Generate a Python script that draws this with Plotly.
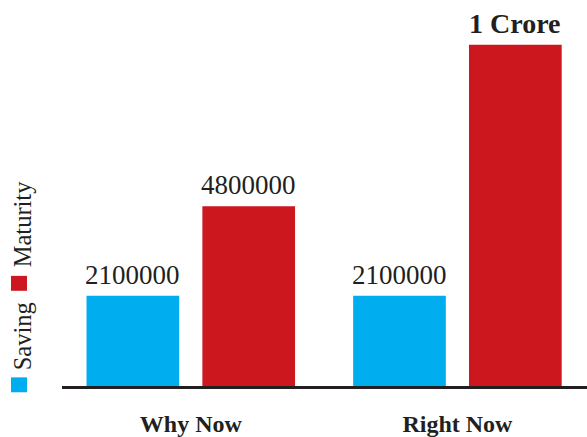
import plotly.graph_objects as go

# ---- data ----
categories = ["Why Now", "Right Now"]
saving_labels = ["2100000", "2100000"]
maturity_labels = ["4800000", "1 Crore"]
# drawn bar heights as they appear in the picture (not proportional to labels)
saving_height = [2.1, 2.1]
maturity_height = [4.18, 7.94]
series_names = ["Saving", "Maturity"]

BLUE = "#00AEEF"
RED = "#CC171F"
INK = "#231F20"
SERIF = "Liberation Serif, Times New Roman, serif"

W, H = 587, 437
ML, MR, MT, MB = 62, 0, 0, 49
plot_w = W - ML - MR
plot_h = H - MT - MB
bargap, bargroupgap = 0.131, 0.2
xr = [-0.483, 1.486]
yr = [0, 8.98]

fig = go.Figure()
fig.add_bar(x=list(range(len(categories))), y=saving_height, name=series_names[0],
            marker=dict(color=BLUE, line=dict(width=0)), showlegend=False)
fig.add_bar(x=list(range(len(categories))), y=maturity_height, name=series_names[1],
            marker=dict(color=RED, line=dict(width=0)), showlegend=False)

cat_px = plot_w / (xr[1] - xr[0])
shift = (1 - bargap) / 2 * cat_px / 2

annotations = []
for heights, labels, sgn in [(saving_height, saving_labels, -1), (maturity_height, maturity_labels, 1)]:
    for i, (h, lab) in enumerate(zip(heights, labels)):
        bold = not lab.isdigit()
        annotations.append(dict(
            x=i, y=h, xref="x", yref="y", text=f"<b>{lab}</b>" if bold else lab,
            showarrow=False, xanchor="center", yanchor="bottom",
            xshift=sgn * shift, yshift=4,
            font=dict(family=SERIF, size=28 if bold else 27, color=INK)))

# rotated legend
def px_x(p):
    return (p - ML) / plot_w

def px_y(p):
    return (MT + plot_h - p) / plot_h

legend_items = [(series_names[0], BLUE, 379.3, 338), (series_names[1], RED, 277.3, 225.5)]
shapes = []
for name, col, sq_top, txt_mid in legend_items:
    shapes.append(dict(type="rect", xref="paper", yref="paper",
                       x0=px_x(11), x1=px_x(27), y0=px_y(sq_top + 15), y1=px_y(sq_top),
                       fillcolor=col, line=dict(width=0), layer="above"))
    annotations.append(dict(x=px_x(22), y=px_y(txt_mid), xref="paper", yref="paper",
                            text=name, textangle=-90, showarrow=False,
                            xanchor="center", yanchor="middle",
                            font=dict(family=SERIF, size=24.5, color=INK)))

fig.update_layout(
    width=W, height=H, margin=dict(l=ML, r=MR, t=MT, b=MB, pad=0),
    paper_bgcolor="white", plot_bgcolor="white",
    barmode="group", bargap=bargap, bargroupgap=bargroupgap,
    annotations=annotations, shapes=shapes, showlegend=False,
    xaxis=dict(range=xr, tickmode="array", tickvals=list(range(len(categories))),
               ticktext=[f"<b>{c}</b>" for c in categories],
               tickfont=dict(family=SERIF, size=24, color=INK),
               showline=True, linecolor=INK, linewidth=2.5, showgrid=False,
               zeroline=False, ticks="", ticklabelstandoff=14, fixedrange=True),
    yaxis=dict(range=yr, visible=False, showgrid=False, zeroline=False, fixedrange=True),
)

fig.write_html("out.html", config={"displayModeBar": False})
